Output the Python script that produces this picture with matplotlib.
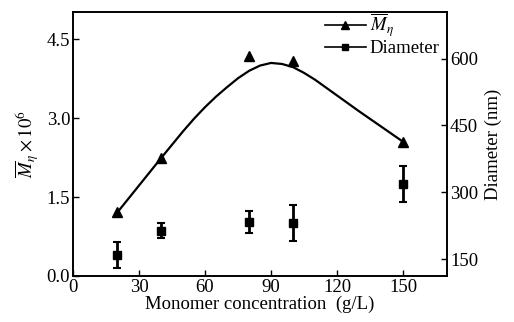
import numpy as np
import matplotlib.pyplot as plt

plt.rcParams['font.family'] = ['Liberation Serif', 'DejaVu Serif']
plt.rcParams['mathtext.fontset'] = 'stix'
plt.rcParams['font.size'] = 13

# Viscosity-average molecular weight (x 10^6), left axis
conc = [20, 40, 80, 100, 150]
mw = [1.21, 2.25, 4.18, 4.08, 2.55]

# Smooth trend curve
curve_x = [20, 30, 40, 50, 55, 60, 65, 70, 75, 80, 85, 90, 95, 100, 105,
           110, 120, 130, 140, 150]
curve_y = [1.20, 1.72, 2.24, 2.75, 2.99, 3.21, 3.41, 3.59, 3.76, 3.90, 4.00,
           4.05, 4.03, 3.97, 3.86, 3.73, 3.43, 3.13, 2.84, 2.55]

# Particle diameter (nm), right axis
diam = [159, 214, 233, 231, 318]
diam_err = [29, 16, 25, 40, 41]

fig = plt.figure(figsize=(5.14, 3.22), dpi=100)
ax = fig.add_axes([0.142, 0.143, 0.728, 0.82])
ax2 = ax.twinx()

ax.plot(curve_x, curve_y, color='black', lw=1.6)
ax.plot(conc, mw, '^', color='black', ms=7.5)
ax2.errorbar(conc, diam, yerr=diam_err, fmt='s', color='black', ms=6,
             elinewidth=2, capsize=3, capthick=1.5)

ax.set_xlim(0, 170)
ax.set_ylim(0, 5.02)
ax2.set_ylim(112, 705)
ax.set_xticks([0, 30, 60, 90, 120, 150])
ax.set_yticks([0.0, 1.5, 3.0, 4.5])
ax.set_yticklabels(['0.0', '1.5', '3.0', '4.5'])
ax2.set_yticks([150, 300, 450, 600])

for a in (ax, ax2):
    a.tick_params(direction='in', length=4, width=1, labelsize=13.5, pad=2)
    for s in a.spines.values():
        s.set_linewidth(1.2)

ax.set_xlabel('Monomer concentration  (g/L)', fontsize=13.5, labelpad=0)
ax.set_ylabel(r'$\overline{M}_\eta\times10^6$', fontsize=13.5, labelpad=4)
ax2.set_ylabel('Diameter (nm)', fontsize=13.5, labelpad=5)

h1, = ax.plot([], [], '-^', color='black', ms=6, lw=1.2)
h2, = ax.plot([], [], '-s', color='black', ms=5, lw=1.2)
ax.legend([h1, h2], [r'$\overline{M}_\eta$', 'Diameter'], loc='upper right',
          frameon=False, fontsize=13.5, handlelength=2.2, handletextpad=0.2,
          borderaxespad=0.0, labelspacing=0.05, bbox_to_anchor=(1.0, 1.03))

fig.savefig('out.png', dpi=100)
